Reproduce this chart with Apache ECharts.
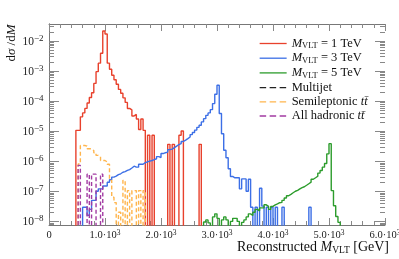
<!DOCTYPE html>
<html><head><meta charset="utf-8">
<script src="https://cdn.jsdelivr.net/npm/echarts@6/dist/echarts.min.js"></script>
<style>html,body{margin:0;padding:0;background:#fff}#c{width:399px;height:259px}</style>
</head><body><div id="c"></div>
<script>
// ---------- data (bin width 40 GeV; start = index of first bin) ----------
const BIN_WIDTH = 40;
const xTickValues = [0, 1000, 2000, 3000, 4000, 5000, 6000];
const yTickExponents = [-8, -7, -6, -5, -4, -3, -2];
const yMantissas = [1, 2, 3, 4, 5, 6, 7, 8, 9];

const red1TeVStart = 12;
const red1TeV = [1.05e-5,1.05e-5,2.95e-5,3.98e-5,5.62e-5,8.5e-5,1.29e-4,1.86e-4,3.8e-4,9.3e-4,
  1.78e-3,3.8e-3,2.09e-2,1.66e-2,1.78e-3,1.12e-3,7.1e-4,5.0e-4,3.55e-4,2.4e-4,
  1.78e-4,1.26e-4,8.9e-5,5.6e-5,5.0e-5,3.16e-5,3.55e-5,2.5e-5,1.12e-5,2.5e-5,
  1.05e-5,0,7.2e-6,0,7.2e-6,0,0,0,0,0,
  0,3.6e-6,0,3.6e-6,0,0,7.2e-6,1.0e-5,0,0,
  0,0,0,0,0,3.6e-6];

const blue3TeVStart = 15;
const blue3TeV = [2.95e-8,2.95e-8,1.58e-8,2.5e-8,5.0e-8,5.0e-8,1.0e-7,1.2e-7,1.2e-7,1.5e-7,
  1.5e-7,2.0e-7,2.4e-7,2.95e-7,3.16e-7,3.55e-7,3.8e-7,4.27e-7,4.47e-7,4.9e-7,
  5.25e-7,5.9e-7,6.8e-7,6.3e-7,6.3e-7,7.9e-7,7.9e-7,8.9e-7,9.5e-7,1.0e-6,
  1.05e-6,1.12e-6,1.2e-6,1.41e-6,1.32e-6,1.78e-6,1.9e-6,2.0e-6,2.4e-6,2.5e-6,
  2.8e-6,3.16e-6,3.55e-6,3.8e-6,4.47e-6,5.0e-6,5.6e-6,6.3e-6,7.6e-6,8.9e-6,
  1.07e-5,1.32e-5,1.55e-5,2.0e-5,2.57e-5,3.3e-5,3.98e-5,5.1e-5,8.1e-5,1.66e-4,
  3.3e-4,3.8e-5,8.1e-6,2.3e-6,1.29e-6,5.6e-7,3.1e-7,2.8e-7,2.8e-7,2.8e-7,
  1.2e-7,2.57e-7,2.57e-7,1.0e-7,2.5e-7,2.95e-8,0,2.95e-8,0,1.26e-7,
  3.2e-8,0,2.95e-8,0,2.95e-8,0,2.95e-8,0,0,2.95e-8,
  0,0,0,0,0,0,0,0,0,0,0,2.95e-8];

const green5TeVStart = 69;
const green5TeV = [9.5e-9,1.12e-8,8.9e-9,0,1.41e-8,1.78e-8,1.26e-8,0,1.12e-8,1.41e-8,
  1.12e-8,0,1.0e-8,1.26e-8,1.26e-8,1.0e-8,0,9.3e-9,1.12e-8,1.41e-8,
  1.78e-8,1.58e-8,2.0e-8,2.5e-8,2.24e-8,2.8e-8,2.8e-8,3.55e-8,3.16e-8,2.5e-8,
  3.16e-8,3.55e-8,3.8e-8,4.17e-8,4.27e-8,5.0e-8,6.0e-8,7.1e-8,7.9e-8,8.9e-8,
  1.0e-7,1.07e-7,1.2e-7,1.32e-7,1.41e-7,1.58e-7,1.78e-7,2.0e-7,2.5e-7,2.8e-7,
  3.16e-7,4.0e-7,4.9e-7,6.3e-7,8.3e-7,1.74e-6,3.8e-6,1.05e-7,3.3e-8,1.45e-8,9.3e-9];

const multijetStart = 0;
const multijet = [];

const semilepStart = 13;
const semilep = [8.1e-7,3.3e-6,3.3e-6,3.16e-6,2.57e-6,2.57e-6,2.24e-6,1.9e-6,1.55e-6,1.41e-6,
  1.05e-6,1.05e-6,9.3e-7,7.9e-7,2.3e-7,6.3e-8,4.2e-8,0,2.0e-8,0,
  2.3e-7,0,1.05e-7,0,1.05e-7,1.05e-7,0,1.05e-7,0,1.05e-7];

const allhadStart = 13;
const allhad = [7.2e-7,0,0,0,3.7e-7,0,3.7e-7,3.7e-7,0,0,3.7e-7];

// ---------- helpers ----------
const FLOOR = 1e-12;
function hist(start, vals) {
  if (!vals.length) return [];
  const pts = [[start * BIN_WIDTH, FLOOR]];
  vals.forEach((v, i) => pts.push([(start + i) * BIN_WIDTH, v > 0 ? v : FLOOR]));
  pts.push([(start + vals.length) * BIN_WIDTH, FLOOR]);
  return pts;
}
const F = "'Liberation Serif','Times New Roman',serif";
const Y_MIN = 7.59e-9, Y_MAX = 3.55e-2;

const yTicks = [];
yTickExponents.concat([-9, -1]).forEach(e => yMantissas.forEach(m => {
  const v = m * Math.pow(10, e);
  if (v >= Y_MIN && v <= Y_MAX) yTicks.push([0, v, m === 1 ? 1 : 0, e]);
}));

const names = ['M1', 'M3', 'M5', 'Multijet', 'Semi', 'Had'];
const dashedNames = ['Multijet', 'Semi', 'Had'];
const legendText = {
  M1: '{i|M}{sub|VLT}{r| = 1 TeV}',
  M3: '{i|M}{sub|VLT}{r| = 3 TeV}',
  M5: '{i|M}{sub|VLT}{r| = 5 TeV}',
  Multijet: '{r|Multijet}',
  Semi: '{r|Semileptonic }{i|tt\u0304}',
  Had: '{r|All hadronic }{i|tt\u0304}'
};
const LS = 12.5;
const legendRich = {
  r: {fontFamily: F, fontSize: LS, lineHeight: 14, color: '#111'},
  i: {fontFamily: F, fontSize: LS, lineHeight: 14, fontStyle: 'italic', color: '#111'},
  sub: {fontFamily: F, fontSize: 8.5, lineHeight: 8, verticalAlign: 'bottom', color: '#111'}
};

function lineSeries(name, color, start, vals, dashed) {
  return {
    name, type: 'line', step: 'end', symbol: 'none', clip: true,
    data: hist(start, vals),
    lineStyle: {color, width: 1.4, type: dashed ? [4, 2.5] : 'solid'},
    itemStyle: {color}
  };
}

const chart = echarts.init(document.getElementById('c'), null, {renderer: 'canvas'});
const axisColor = '#777';
chart.setOption({
  animation: false,
  grid: {left: 49, top: 24, width: 336, height: 201, containLabel: false, outerBoundsMode: 'none'},
  xAxis: [{
    type: 'value', min: 0, max: 6000, interval: 1000,
    axisLine: {show: true, lineStyle: {color: axisColor}},
    axisTick: {show: true, inside: true, length: 7, lineStyle: {color: '#888'}},
    minorTick: {show: true, splitNumber: 5, length: 4, lineStyle: {color: '#888'}},
    splitLine: {show: false},
    axisLabel: {
      margin: 4,
      formatter: v => v === 0 ? '{b|0}' : '{b|' + (v / 1000).toFixed(1) + '·10}{s|3}',
      rich: {
        b: {fontFamily: F, fontSize: 10.5, lineHeight: 13, color: '#222'},
        s: {fontFamily: F, fontSize: 7.5, lineHeight: 6, verticalAlign: 'top', color: '#222'}
      }
    }
  }, {
    type: 'value', position: 'top', min: 0, max: 6000, interval: 1000,
    axisLine: {show: true, lineStyle: {color: axisColor}},
    axisTick: {show: true, inside: true, length: 7, lineStyle: {color: '#888'}},
    minorTick: {show: true, splitNumber: 5, length: 4, lineStyle: {color: '#888'}},
    splitLine: {show: false}, axisLabel: {show: false}
  }],
  yAxis: [{
    type: 'log', min: Y_MIN, max: Y_MAX,
    axisLine: {show: true, lineStyle: {color: axisColor}},
    axisTick: {show: false}, axisLabel: {show: false}, splitLine: {show: false}
  }, {
    type: 'log', position: 'right', min: Y_MIN, max: Y_MAX,
    axisLine: {show: true, lineStyle: {color: axisColor}},
    axisTick: {show: false}, axisLabel: {show: false}, splitLine: {show: false}
  }],
  legend: {
    orient: 'vertical', left: 259, top: 37, padding: 0,
    itemWidth: 27, itemHeight: 14, itemGap: 1.2,
    data: names.map(n => dashedNames.includes(n)
      ? {name: n, lineStyle: {type: [6.5, 3.5], width: 1.3}}
      : {name: n, lineStyle: {width: 1.3}}),
    formatter: n => legendText[n],
    itemStyle: {opacity: 0},
    textStyle: {rich: legendRich}
  },
  graphic: [{
    type: 'text', x: 12, y: 43, rotation: Math.PI / 2,
    style: {
      text: '{r|d}{i|σ}{r| /d}{i|M}', align: 'center', verticalAlign: 'middle',
      rich: {
        r: {fontFamily: F, fontSize: 13, fill: '#111'},
        i: {fontFamily: F, fontSize: 13, fontStyle: 'italic', fill: '#111'}
      }
    }
  }, {
    type: 'text', x: 389, y: 247,
    style: {
      text: '{r|Reconstructed }{i|M}{sub|VLT}{r| [GeV]}', align: 'right', verticalAlign: 'middle',
      rich: {
        r: {fontFamily: F, fontSize: 14, lineHeight: 16, fill: '#111'},
        i: {fontFamily: F, fontSize: 14, lineHeight: 16, fontStyle: 'italic', fill: '#111'},
        sub: {fontFamily: F, fontSize: 9.5, lineHeight: 9, verticalAlign: 'bottom', fill: '#111'}
      }
    }
  }],
  series: [
    {
      type: 'custom', name: 'yticks', silent: true, z: 1,
      data: yTicks,
      renderItem(params, api) {
        const cs = params.coordSys;
        const v = api.value(1), major = api.value(2) === 1, e = api.value(3);
        const y = Math.round(api.coord([0, v])[1]) + 0.5;
        const L = major ? 10 : 5;
        const st = {stroke: '#888', lineWidth: 1};
        const ch = [
          {type: 'line', shape: {x1: cs.x, y1: y, x2: cs.x + L, y2: y}, style: st},
          {type: 'line', shape: {x1: cs.x + cs.width - L, y1: y, x2: cs.x + cs.width, y2: y}, style: st}
        ];
        if (major) ch.push({
          type: 'text', x: cs.x - 5.5, y: y,
          style: {
            text: '{b|10}{s|\u2212' + (-e) + '}', align: 'right', verticalAlign: 'middle',
            rich: {
              b: {fontFamily: F, fontSize: 11.5, lineHeight: 14, fill: '#222'},
              s: {fontFamily: F, fontSize: 9, lineHeight: 7, verticalAlign: 'top', fill: '#222'}
            }
          }
        });
        return {type: 'group', children: ch};
      }
    },
    lineSeries('M1', '#e8412c', red1TeVStart, red1TeV, false),
    lineSeries('M3', '#3c6fe6', blue3TeVStart, blue3TeV, false),
    lineSeries('M5', '#2c9c2c', green5TeVStart, green5TeV, false),
    lineSeries('Multijet', '#222222', multijetStart, multijet, true),
    lineSeries('Semi', '#ffb54d', semilepStart, semilep, true),
    lineSeries('Had', '#a23ba2', allhadStart, allhad, true)
  ]
});
</script>
</body></html>
